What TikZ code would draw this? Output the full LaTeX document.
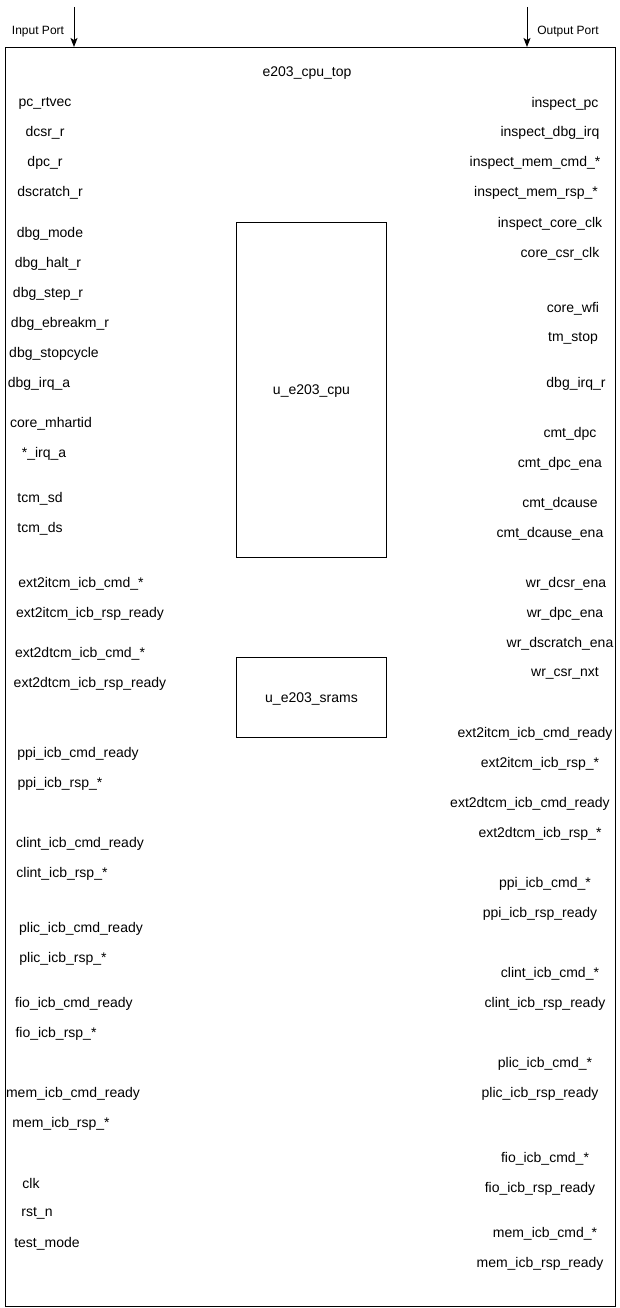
\documentclass[tikz,border=0pt]{standalone}
\usepackage{fontspec}
\setmainfont{Liberation Sans}
\usetikzlibrary{arrows.meta}
\begin{document}
\begin{tikzpicture}[x=1pt,y=-1pt,
  sig/.style={inner sep=0pt,yshift=-1.5pt,font=\fontsize{14}{16}\selectfont},
  lbl/.style={inner sep=0pt,yshift=-1pt,font=\fontsize{12}{14}\selectfont},
  blk/.style={draw,line width=1pt},
  port/.style={line width=1pt,-{Stealth[length=9pt,width=7pt,inset=2pt]}}]
\useasboundingbox (0,0) rectangle (620,1308);
% outer module and submodules
\node[blk,minimum width=610pt,minimum height=1259pt,anchor=north west] (top) at (5,47) {};
\node[blk,minimum width=150pt,minimum height=335pt,anchor=north west] (cpu) at (236,222) {};
\node[blk,minimum width=150pt,minimum height=80pt,anchor=north west] (srams) at (236,657) {};
\node[sig] (cpulbl) at (cpu.center) {u\_e203\_cpu};
\node[sig] (sramlbl) at (srams.center) {u\_e203\_srams};
\node[sig] (toplbl) at (307,72) {e203\_cpu\_top};
% port legend
\coordinate (inS) at (74,7);
\coordinate (inE) at (74,47);
\coordinate (outS) at (527,7);
\coordinate (outE) at (527,47);
\draw[port] (inS) -- (inE);
\draw[port] (outS) -- (outE);
\node[lbl] (inlbl) at (38,31) {Input Port};
\node[lbl] (outlbl) at (568,31) {Output Port};
% input ports
\foreach \n/\x/\y/\t in {
 i1/45/102/pc\_rtvec, i2/45/131/dcsr\_r, i3/45/161/dpc\_r, i4/50/191/dscratch\_r,
 i5/50/232/dbg\_mode, i6/48/262/dbg\_halt\_r, i7/48/292/dbg\_step\_r,
 i8/60/322/dbg\_ebreakm\_r, i9/54/352/dbg\_stopcycle, i10/39/382/dbg\_irq\_a,
 i11/51/422/core\_mhartid, i12/44/452/*\_irq\_a, i13/40/497/tcm\_sd, i14/40/527/tcm\_ds,
 i15/81/582/ext2itcm\_icb\_cmd\_*, i16/90/612/ext2itcm\_icb\_rsp\_ready,
 i17/80/652/ext2dtcm\_icb\_cmd\_*, i18/90/682/ext2dtcm\_icb\_rsp\_ready,
 i19/78/752/ppi\_icb\_cmd\_ready, i20/60/782/ppi\_icb\_rsp\_*,
 i21/80/842/clint\_icb\_cmd\_ready, i22/62/872/clint\_icb\_rsp\_*,
 i23/81/927/plic\_icb\_cmd\_ready, i24/63/957/plic\_icb\_rsp\_*,
 i25/74/1002/fio\_icb\_cmd\_ready, i26/56/1032/fio\_icb\_rsp\_*,
 i27/73/1092/mem\_icb\_cmd\_ready, i28/61/1122/mem\_icb\_rsp\_*,
 i29/31/1182/clk, i30/37/1212/rst\_n, i31/47/1242/test\_mode}
 \node[sig] (\n) at (\x,\y) {\t};
% output ports
\foreach \n/\x/\y/\t in {
 o1/565/102/inspect\_pc, o2/550/131/inspect\_dbg\_irq, o3/535/161/inspect\_mem\_cmd\_*,
 o4/536/191/inspect\_mem\_rsp\_*, o5/550/222/inspect\_core\_clk, o6/560/252/core\_csr\_clk,
 o7/573/307/core\_wfi, o8/573/337/tm\_stop, o9/576/382/dbg\_irq\_r,
 o10/570/432/cmt\_dpc, o11/560/462/cmt\_dpc\_ena, o12/560/502/cmt\_dcause,
 o13/550/532/cmt\_dcause\_ena, o14/566/582/wr\_dcsr\_ena, o15/565/612/wr\_dpc\_ena,
 o16/560/642/wr\_dscratch\_ena, o17/565/672/wr\_csr\_nxt,
 o18/535/732/ext2itcm\_icb\_cmd\_ready, o19/540/762/ext2itcm\_icb\_rsp\_*,
 o20/530/802/ext2dtcm\_icb\_cmd\_ready, o21/540/832/ext2dtcm\_icb\_rsp\_*,
 o22/545/882/ppi\_icb\_cmd\_*, o23/540/912/ppi\_icb\_rsp\_ready,
 o24/550/972/clint\_icb\_cmd\_*, o25/545/1002/clint\_icb\_rsp\_ready,
 o26/545/1062/plic\_icb\_cmd\_*, o27/540/1092/plic\_icb\_rsp\_ready,
 o28/545/1157/fio\_icb\_cmd\_*, o29/540/1187/fio\_icb\_rsp\_ready,
 o30/545/1232/mem\_icb\_cmd\_*, o31/540/1262/mem\_icb\_rsp\_ready}
 \node[sig] (\n) at (\x,\y) {\t};
\end{tikzpicture}
\end{document}
